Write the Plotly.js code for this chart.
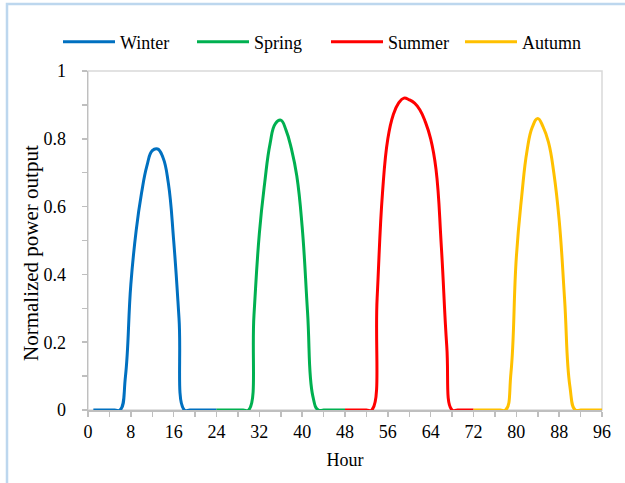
<!DOCTYPE html>
<html>
<head>
<meta charset="utf-8">
<script src="https://cdn.plot.ly/plotly-3.0.1.min.js"></script>
<style>
  html, body { margin: 0; padding: 0; background: #ffffff; }
  #chart { width: 625px; height: 483px; }
</style>
</head>
<body>
<div id="chart"></div>
<script>
// Hours for each season
const winterHours = [1,2,3,4,5,6,7,8,9,10,11,12,13,14,15,16,17,18,19,20,21,22,23,24];
const springHours = [24,25,26,27,28,29,30,31,32,33,34,35,36,37,38,39,40,41,42,43,44,45,46,47,48];
const summerHours = [48,49,50,51,52,53,54,55,56,57,58,59,60,61,62,63,64,65,66,67,68,69,70,71,72];
const autumnHours = [72,73,74,75,76,77,78,79,80,81,82,83,84,85,86,87,88,89,90,91,92,93,94,95,96];

// Normalized power output
const winterValues = [0,0,0,0,0,0,0.10,0.37,0.53,0.64,0.72,0.765,0.77,0.745,0.67,0.50,0.27,0,0,0,0,0,0,0];
const springValues = [0,0,0,0,0,0,0,0.28,0.52,0.67,0.785,0.845,0.855,0.825,0.77,0.69,0.54,0.29,0.04,0,0,0,0,0,0];
const summerValues = [0,0,0,0,0,0,0.33,0.64,0.80,0.87,0.905,0.92,0.915,0.905,0.885,0.85,0.80,0.71,0.48,0.19,0,0,0,0,0];
const autumnValues = [0,0,0,0,0,0,0,0.11,0.45,0.63,0.765,0.835,0.86,0.835,0.79,0.70,0.56,0.33,0.07,0,0,0,0,0,0];

const seriesNames = ['Winter','Spring','Summer','Autumn'];
const seriesColors = ['#0070C0','#00B050','#FF0000','#FFC000'];
const xTicks = [0,8,16,24,32,40,48,56,64,72,80,88,96];
const yTicks = [0,0.2,0.4,0.6,0.8,1];
const yTickText = ['0','0.2','0.4','0.6','0.8','1'];
const xTitle = 'Hour';
const yTitle = 'Normalized power output';

const xs = [winterHours, springHours, summerHours, autumnHours];
const ys = [winterValues, springValues, summerValues, autumnValues];

const traces = seriesNames.map((n, i) => ({
  type: 'scatter',
  mode: 'lines',
  name: n,
  x: xs[i],
  y: ys[i],
  line: { color: seriesColors[i], width: 3, shape: 'spline', smoothing: 1.3 },
  hoverinfo: 'x+y'
}));

const font = 'Liberation Serif';
const L = 88, R = 602, T = 71, B = 410;
const pw = R - L, ph = B - T;

const layout = {
  width: 625,
  height: 483,
  margin: { l: L, r: 625 - R, t: T, b: 483 - B, pad: 0 },
  paper_bgcolor: '#ffffff',
  plot_bgcolor: '#ffffff',
  font: { family: font, size: 18, color: '#000000' },
  showlegend: true,
  legend: {
    orientation: 'h',
    x: (58 - L) / pw,
    xanchor: 'left',
    y: (B - 42) / ph,
    yanchor: 'middle',
    font: { family: font, size: 18, color: '#000000' },
    itemwidth: 52,
    entrywidth: 67,
    entrywidthmode: 'pixels',
    tracegroupgap: 0,
    bgcolor: 'rgba(0,0,0,0)'
  },
  xaxis: {
    range: [0, 96],
    tickvals: xTicks,
    ticktext: xTicks.map(String),
    ticks: 'outside',
    ticklen: 5,
    tickwidth: 1.5,
    tickcolor: '#bfbfbf',
    showline: true,
    linecolor: '#bfbfbf',
    linewidth: 1.5,
    showgrid: false,
    zeroline: false,
    minor: { dtick: 4, tick0: 0, ticks: 'outside', ticklen: 5, tickwidth: 1.5, tickcolor: '#bfbfbf', showgrid: false },
    title: { text: xTitle, font: { family: font, size: 18, color: '#000000' }, standoff: 12 },
    tickfont: { family: font, size: 18, color: '#000000' },
    fixedrange: true
  },
  yaxis: {
    range: [0, 1],
    tickvals: yTicks,
    ticktext: yTickText,
    ticks: 'outside',
    ticklen: 5,
    tickwidth: 1.5,
    tickcolor: '#bfbfbf',
    ticklabelstandoff: 12,
    showline: true,
    linecolor: '#bfbfbf',
    linewidth: 1.5,
    showgrid: false,
    zeroline: false,
    minor: { dtick: 0.1, tick0: 0, ticks: 'outside', ticklen: 5, tickwidth: 1.5, tickcolor: '#bfbfbf', showgrid: false },
    tickfont: { family: font, size: 18, color: '#000000' },
    fixedrange: true
  },
  annotations: [
    { text: yTitle, xref: 'paper', yref: 'paper', x: (31 - L) / pw, y: (B - 253) / ph,
      xanchor: 'center', yanchor: 'middle', textangle: -90, showarrow: false,
      font: { family: font, size: 21, color: '#000000' } }
  ],
  shapes: [
    { type: 'rect', xref: 'paper', yref: 'paper', x0: 0, x1: 1, y0: 0, y1: 1,
      line: { color: '#d9d9d9', width: 1.5 }, layer: 'below' },
    { type: 'rect', xref: 'paper', yref: 'paper',
      x0: (7 - L) / pw, x1: (660 - L) / pw, y0: (B - 520) / ph, y1: (B - 4) / ph,
      line: { color: '#bdd7ee', width: 2.5 }, layer: 'below' }
  ]
};

Plotly.newPlot('chart', traces, layout, { displayModeBar: false, staticPlot: true });
</script>
</body>
</html>
